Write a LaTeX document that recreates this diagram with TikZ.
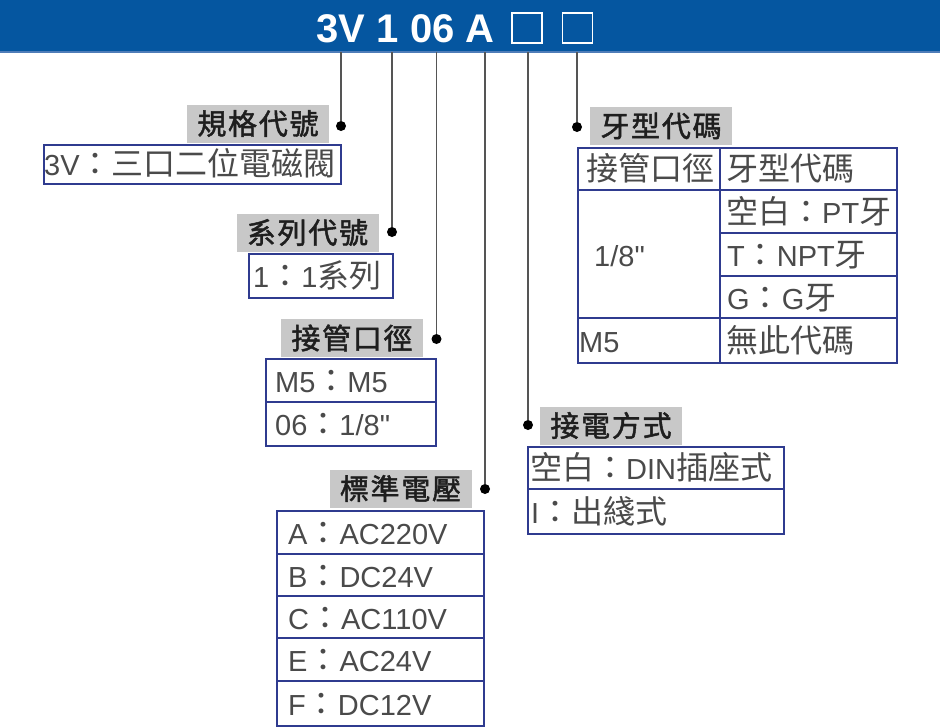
\documentclass[tikz,border=0pt]{standalone}
\usepackage{fontspec}
\newfontfamily\cjkf{Noto Sans CJK TC}
\newfontfamily\cjkbf[FakeBold=1.6,LetterSpace=6]{Noto Sans CJK TC}
\newfontfamily\latf{Liberation Sans}
\newfontfamily\hdf{Liberation Sans}
\newcommand\zh[1]{{\cjkf\fontsize{32}{32}\selectfont #1}}
\definecolor{hdblue}{HTML}{0556A0}
\definecolor{hdedge}{HTML}{4F7DB8}
\definecolor{navy}{HTML}{2F3B8F}
\definecolor{lblgray}{HTML}{C8C8C8}
\definecolor{celltext}{HTML}{4A4A4A}
\definecolor{lbltext}{HTML}{1E1E1E}
\definecolor{conngray}{HTML}{555555}
\tikzset{
  box/.style={draw=navy, line width=1.8pt, inner sep=0, anchor=north west},
  grid/.style={draw=navy, line width=1.8pt},
  lbl/.style={fill=lblgray, inner sep=0, minimum width=142pt, minimum height=38pt,
    text=lbltext, font=\cjkbf\fontsize{29}{29}\selectfont},
  cell/.style={anchor=base west, inner sep=0, text=celltext,
    font=\latf\fontsize{29}{29}\selectfont},
  dotn/.style={circle, fill=black, inner sep=0, minimum size=10pt},
  conn/.style={draw=conngray, line width=1.6pt},
  sq/.style={draw=white, line width=1.3pt, inner sep=0, minimum width=30pt, minimum height=30pt}
}
\begin{document}
\begin{tikzpicture}[x=1pt,y=-1pt]
\useasboundingbox (0,0) rectangle (940,726);
% header
\fill[hdblue] (0,0) rectangle (940,51);
\fill[hdedge] (0,51) rectangle (940,52.5);
\node[anchor=base west, inner sep=0, text=white,
  font=\hdf\bfseries\fontsize{40}{40}\selectfont] (code) at (316.5,42) {3V 1 06 A};
\node[sq] (s1) at (527,28) {};
\node[sq] (s2) at (577.5,28) {};
% connector tops
\coordinate (t1) at (341,52);
\coordinate (t2) at (392,52);
\coordinate (t3) at (436.5,52);
\coordinate (t4) at (485,52);
\coordinate (t5) at (528,52);
\coordinate (t6) at (577,52);
% dots
\node[dotn] (d1) at (341,126) {};
\node[dotn] (d2) at (392,232) {};
\node[dotn] (d3) at (436.5,339) {};
\node[dotn] (d4) at (485,489) {};
\node[dotn] (d5) at (528,425) {};
\node[dotn] (d6) at (577,127) {};
\draw[conn] (t1) -- (d1);
\draw[conn] (t2) -- (d2);
\draw[conn] (t3) -- (d3);
\draw[conn] (t4) -- (d4);
\draw[conn] (t5) -- (d5);
\draw[conn] (t6) -- (d6);
% labels
\node[lbl] (l1) at (258,123.5) {規格代號};
\node[lbl] (l2) at (307.5,232.5) {系列代號};
\node[lbl] (l3) at (352,338) {接管口徑};
\node[lbl] (l4) at (400.5,488.5) {標準電壓};
\node[lbl] (l5) at (611,425.5) {接電方式};
\node[lbl] (l6) at (661,126) {牙型代碼};
% box 1
\node[box, minimum width=297pt, minimum height=39pt] (b1) at (43,144) {};
\node[cell] (c1) at (44,175.5) {3V\zh{：三口二位電磁閥}};
% box 2
\node[box, minimum width=144pt, minimum height=44pt] (b2) at (248,253) {};
\node[cell] (c2) at (253,287) {1\zh{：}1\zh{系列}};
% box 3
\node[box, minimum width=170pt, minimum height=87pt] (b3) at (265,358) {};
\draw[grid] (265,402) -- (435,402);
\node[cell] (c3a) at (275,392) {M5\zh{：}M5};
\node[cell] (c3b) at (275,435.5) {06\zh{：}1/8"};
% box 4
\node[box, minimum width=207pt, minimum height=215pt] (b4) at (276,510) {};
\draw[grid] (276,554) -- (483,554);
\draw[grid] (276,596) -- (483,596);
\draw[grid] (276,638) -- (483,638);
\draw[grid] (276,681) -- (483,681);
\node[cell] (c4a) at (288,544) {A\zh{：}AC220V};
\node[cell] (c4b) at (288,587) {B\zh{：}DC24V};
\node[cell] (c4c) at (288,629) {C\zh{：}AC110V};
\node[cell] (c4d) at (288,671.5) {E\zh{：}AC24V};
\node[cell] (c4e) at (288,715) {F\zh{：}DC12V};
% box 5
\node[box, minimum width=256pt, minimum height=87pt] (b5) at (527,446) {};
\draw[grid] (527,489) -- (783,489);
\node[cell] (c5a) at (530,479.5) {\zh{空白：}DIN\zh{插座式}};
\node[cell] (c5b) at (531,523) {I\zh{：出綫式}};
% table 6
\node[box, minimum width=319pt, minimum height=215pt] (b6) at (577,147) {};
\draw[grid] (720,147) -- (720,362);
\draw[grid] (577,190) -- (896,190);
\draw[grid] (720,233) -- (896,233);
\draw[grid] (720,276) -- (896,276);
\draw[grid] (577,318) -- (896,318);
\node[cell] (c6a) at (586,180.5) {\zh{接管口徑}};
\node[cell] (c6b) at (726,180.5) {\zh{牙型代碼}};
\node[cell] (c6c) at (726,223.5) {\zh{空白：}PT\zh{牙}};
\node[cell] (c6d) at (727,266.5) {T\zh{：}NPT\zh{牙}};
\node[cell] (c6e) at (727,309) {G\zh{：}G\zh{牙}};
\node[cell] (c6f) at (594,266) {1/8"};
\node[cell] (c6g) at (579,352) {M5};
\node[cell] (c6h) at (726,352) {\zh{無此代碼}};
\end{tikzpicture}
\end{document}
